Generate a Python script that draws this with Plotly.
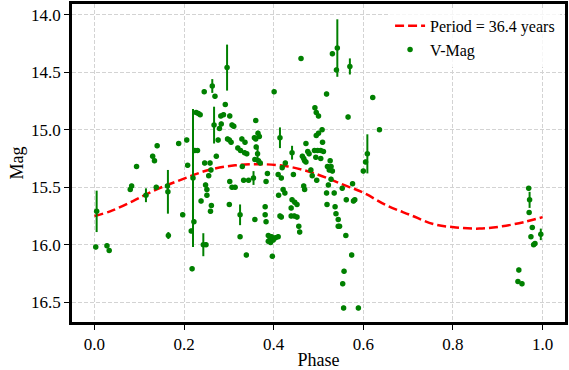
import plotly.graph_objects as go

# V-band photometry folded on the period (phase, magnitude, error)
phase = [
    0.005, 0.003, 0.028, 0.033, 0.080, 0.083, 0.094, 0.115, 0.130, 0.134,
    0.140, 0.138, 0.163, 0.164, 0.165, 0.188, 0.197, 0.206, 0.208, 0.216,
    0.218, 0.220, 0.222, 0.224, 0.230, 0.227, 0.232, 0.236, 0.238, 0.243,
    0.249, 0.245, 0.246, 0.258, 0.248, 0.251, 0.251, 0.255, 0.259, 0.261,
    0.260, 0.263, 0.269, 0.267, 0.272, 0.276, 0.279, 0.283, 0.282, 0.288,
    0.292, 0.296, 0.297, 0.301, 0.302, 0.307, 0.311, 0.305, 0.302, 0.307,
    0.314, 0.301, 0.325, 0.325, 0.329, 0.330, 0.320, 0.326, 0.335, 0.340,
    0.333, 0.344, 0.339, 0.358, 0.355, 0.360, 0.360, 0.361, 0.365, 0.357,
    0.368, 0.358, 0.366, 0.370, 0.364, 0.336, 0.386, 0.383, 0.381, 0.381,
    0.383, 0.388, 0.392, 0.395, 0.388, 0.393, 0.399, 0.404, 0.410, 0.397,
    0.401, 0.414, 0.410, 0.417, 0.419, 0.426, 0.411, 0.421, 0.425, 0.414,
    0.417, 0.439, 0.441, 0.447, 0.452, 0.439, 0.446, 0.452, 0.456, 0.458,
    0.441, 0.444, 0.461, 0.464, 0.467, 0.469, 0.472, 0.467, 0.469, 0.472,
    0.476, 0.479, 0.483, 0.486, 0.496, 0.492, 0.495, 0.500, 0.495, 0.500,
    0.508, 0.491, 0.498, 0.505, 0.494, 0.505, 0.509, 0.511, 0.518, 0.518,
    0.519, 0.522, 0.520, 0.524, 0.528, 0.531, 0.526, 0.528, 0.531, 0.542,
    0.540, 0.535, 0.537, 0.539, 0.544, 0.544, 0.547, 0.553, 0.561, 0.562,
    0.566, 0.570, 0.576, 0.578, 0.581, 0.574, 0.557, 0.554, 0.556, 0.589,
    0.600, 0.605, 0.609, 0.621, 0.636, 0.969, 0.971, 0.970, 0.977, 0.974,
    0.980, 0.983, 0.996, 0.947, 0.945, 0.954,
]
vmag = [
    15.71, 16.02, 16.01, 16.05, 15.52, 15.49, 15.32, 15.57, 15.23, 15.27,
    15.14, 15.50, 15.49, 15.54, 15.92, 15.12, 15.74, 15.09, 15.31, 15.88,
    16.21, 15.42, 15.80, 15.18, 15.18, 14.85, 14.86, 14.87, 15.62, 16.00,
    16.00, 14.67, 15.29, 15.29, 15.48, 15.52, 15.57, 15.40, 15.71, 15.66,
    15.35, 14.62, 14.71, 14.96, 15.23, 15.09, 14.99, 14.95, 14.88, 14.87,
    14.78, 14.46, 15.08, 15.09, 14.88, 14.96, 14.97, 15.11, 15.45, 15.50,
    15.50, 15.65, 15.74, 15.93, 15.08, 15.32, 15.16, 15.18, 15.20, 15.21,
    15.44, 15.44, 16.09, 15.78, 15.42, 14.92, 15.08, 15.15, 15.03, 15.07,
    15.06, 15.26, 15.27, 15.29, 15.21, 15.11, 15.38, 15.45, 15.67, 15.74,
    15.80, 15.92, 15.95, 15.93, 15.97, 15.98, 15.96, 15.94, 15.93, 16.10,
    14.67, 15.07, 15.39, 15.42, 15.33, 15.29, 15.57, 15.52, 15.55, 15.75,
    15.76, 15.68, 15.61, 15.63, 15.65, 15.75, 15.75, 15.76, 15.84, 15.89,
    15.20, 15.39, 14.38, 15.23, 15.25, 15.27, 15.28, 15.49, 15.52, 15.12,
    15.19, 15.21, 15.35, 15.40, 15.44, 14.81, 14.85, 14.88, 15.05, 15.03,
    15.00, 15.18, 15.18, 15.18, 15.24, 15.25, 15.11, 15.19, 14.69, 15.55,
    15.65, 15.48, 15.32, 15.35, 15.32, 15.36, 15.27, 15.43, 14.34, 14.29,
    14.48, 15.55, 15.67, 15.73, 15.78, 15.84, 15.84, 15.51, 15.92, 15.61,
    14.89, 14.45, 15.47, 15.62, 15.61, 16.09, 16.23, 16.34, 16.55, 16.55,
    15.36, 15.28, 15.21, 14.72, 15.00, 15.51, 15.61, 15.72, 15.85, 15.93,
    16.00, 15.99, 15.91, 16.22, 16.32, 16.34,
]
vmag_err = [
    0.18, 0.02, 0.02, 0.02, 0.02, 0.02, 0.02, 0.06, 0.02, 0.02,
    0.02, 0.02, 0.02, 0.19, 0.03, 0.02, 0.02, 0.02, 0.02, 0.02,
    0.02, 0.60, 0.02, 0.02, 0.02, 0.02, 0.02, 0.02, 0.02, 0.10,
    0.02, 0.02, 0.02, 0.02, 0.02, 0.02, 0.02, 0.02, 0.02, 0.02,
    0.02, 0.06, 0.02, 0.16, 0.02, 0.02, 0.02, 0.02, 0.02, 0.02,
    0.02, 0.20, 0.02, 0.02, 0.02, 0.02, 0.02, 0.02, 0.02, 0.02,
    0.02, 0.02, 0.09, 0.02, 0.02, 0.02, 0.02, 0.02, 0.02, 0.02,
    0.02, 0.02, 0.02, 0.02, 0.06, 0.02, 0.02, 0.02, 0.02, 0.02,
    0.02, 0.02, 0.02, 0.02, 0.05, 0.02, 0.02, 0.02, 0.02, 0.02,
    0.02, 0.02, 0.02, 0.02, 0.02, 0.02, 0.02, 0.02, 0.02, 0.02,
    0.02, 0.09, 0.02, 0.02, 0.02, 0.02, 0.02, 0.02, 0.02, 0.02,
    0.02, 0.02, 0.02, 0.02, 0.02, 0.02, 0.02, 0.02, 0.02, 0.02,
    0.06, 0.02, 0.02, 0.02, 0.02, 0.02, 0.02, 0.02, 0.02, 0.02,
    0.02, 0.02, 0.02, 0.02, 0.02, 0.02, 0.02, 0.02, 0.02, 0.02,
    0.02, 0.02, 0.02, 0.02, 0.02, 0.02, 0.02, 0.02, 0.02, 0.02,
    0.02, 0.02, 0.02, 0.02, 0.02, 0.02, 0.02, 0.02, 0.02, 0.25,
    0.02, 0.02, 0.02, 0.02, 0.02, 0.02, 0.02, 0.02, 0.02, 0.02,
    0.02, 0.07, 0.02, 0.02, 0.02, 0.02, 0.02, 0.02, 0.02, 0.02,
    0.02, 0.02, 0.17, 0.02, 0.02, 0.02, 0.07, 0.02, 0.02, 0.02,
    0.02, 0.02, 0.05, 0.02, 0.02, 0.02,
]

# Sinusoidal model (P = 36.4 yr)
model_phase = [0.0, 0.035, 0.086, 0.138, 0.197, 0.255, 0.314, 0.373, 0.432, 0.491,
               0.550, 0.601, 0.653, 0.704, 0.756, 0.807, 0.859, 0.910, 0.962, 1.0]
model_mag = [15.75, 15.71, 15.62, 15.52, 15.43, 15.35, 15.31, 15.30, 15.32, 15.38,
             15.47, 15.55, 15.66, 15.74, 15.82, 15.85, 15.86, 15.84, 15.80, 15.76]

x_ticks = [0.0, 0.2, 0.4, 0.6, 0.8, 1.0]
y_ticks = [14.0, 14.5, 15.0, 15.5, 16.0, 16.5]

FONT = "Liberation Serif, Times New Roman, serif"

fig = go.Figure()
fig.add_trace(go.Scatter(
    x=model_phase, y=model_mag, mode="lines", line_shape="spline",
    line=dict(color="#ff0000", width=2.5, dash="9px,4px"),
    name="Period = 36.4 years",
))
fig.add_trace(go.Scatter(
    x=phase, y=vmag, mode="markers",
    marker=dict(color="#008000", size=5.5),
    error_y=dict(type="data", array=vmag_err, visible=True,
                 color="#008000", thickness=2, width=0),
    name="V-Mag",
))

axis_common = dict(
    showline=True, linecolor="black", linewidth=2.5, mirror=True,
    ticks="outside", ticklen=5, tickwidth=1.2, tickcolor="black",
    showgrid=True, gridcolor="#d3d3d3", gridwidth=1, griddash="4px,2px",
    zeroline=False,
    tickfont=dict(family=FONT, size=17, color="black"),
)
fig.update_xaxes(
    range=[-0.05, 1.05], tickvals=x_ticks,
    ticktext=[f"{v:.1f}" for v in x_ticks],
    title=dict(text="Phase", font=dict(family=FONT, size=18, color="black"), standoff=2),
    **axis_common,
)
fig.update_yaxes(
    range=[16.672, 13.907], tickvals=y_ticks,
    ticktext=[f"{v:.1f}" for v in y_ticks],
    title=dict(text="Mag", font=dict(family=FONT, size=18, color="black"), standoff=3),
    **axis_common,
)
fig.update_layout(
    width=569, height=370,
    margin=dict(l=72, r=1, t=4, b=48),
    paper_bgcolor="white", plot_bgcolor="white",
    showlegend=True,
    legend=dict(x=0.99, y=0.985, xanchor="right", yanchor="top",
                bgcolor="rgba(255,255,255,0.8)", borderwidth=0,
                font=dict(family=FONT, size=16, color="black"),
                tracegroupgap=0),
)
fig.write_html("out.html")
